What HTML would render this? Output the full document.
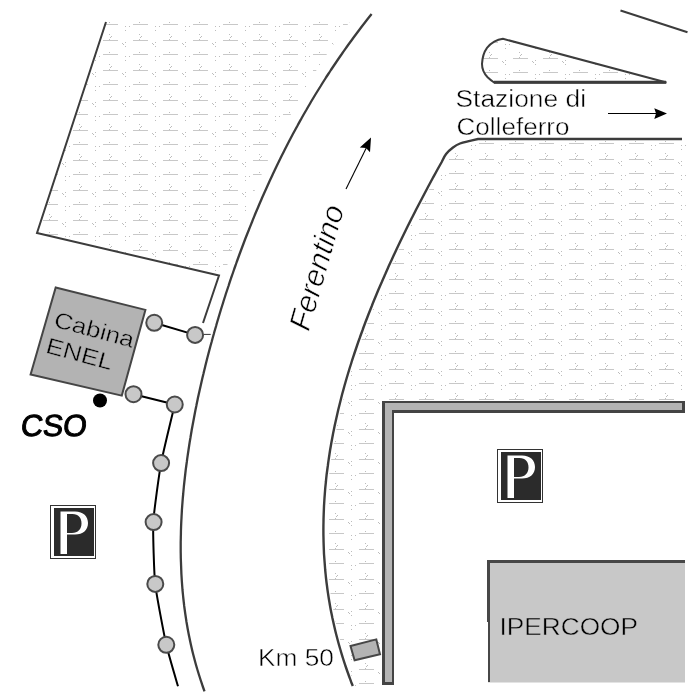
<!DOCTYPE html>
<html><head><meta charset="utf-8"><style>
html,body{margin:0;padding:0;background:#fff;}
svg{display:block;will-change:transform;}
text{font-family:"Liberation Sans",sans-serif;}
</style></head><body>
<svg width="700" height="700" viewBox="0 0 700 700">
<defs>
<pattern id="hL" patternUnits="userSpaceOnUse" x="0" y="0" width="30" height="30"><rect x="13" y="24" width="15" height="1" fill="#c8c8c8"/><rect x="13" y="10" width="15" height="1" fill="#c8c8c8"/><rect x="19" y="22" width="1" height="1" fill="#bdbdbd"/><rect x="5" y="26" width="1" height="1" fill="#bdbdbd"/><rect x="9" y="26" width="1" height="1" fill="#bdbdbd"/><rect x="5" y="0" width="1" height="1" fill="#bdbdbd"/><rect x="19" y="4" width="1" height="1" fill="#bdbdbd"/><rect x="21" y="6" width="1" height="1" fill="#bdbdbd"/><rect x="20" y="7" width="1" height="1" fill="#bdbdbd"/><rect x="19" y="9" width="1" height="1" fill="#bdbdbd"/><rect x="2" y="13" width="1" height="1" fill="#bdbdbd"/><rect x="3" y="14" width="1" height="1" fill="#bdbdbd"/><rect x="5" y="12" width="1" height="1" fill="#bdbdbd"/><rect x="5" y="16" width="1" height="1" fill="#bdbdbd"/></pattern><pattern id="hR" patternUnits="userSpaceOnUse" x="16" y="29" width="30" height="30"><rect x="13" y="24" width="15" height="1" fill="#c8c8c8"/><rect x="13" y="10" width="15" height="1" fill="#c8c8c8"/><rect x="19" y="22" width="1" height="1" fill="#bdbdbd"/><rect x="5" y="26" width="1" height="1" fill="#bdbdbd"/><rect x="9" y="26" width="1" height="1" fill="#bdbdbd"/><rect x="5" y="0" width="1" height="1" fill="#bdbdbd"/><rect x="19" y="4" width="1" height="1" fill="#bdbdbd"/><rect x="21" y="6" width="1" height="1" fill="#bdbdbd"/><rect x="20" y="7" width="1" height="1" fill="#bdbdbd"/><rect x="19" y="9" width="1" height="1" fill="#bdbdbd"/><rect x="2" y="13" width="1" height="1" fill="#bdbdbd"/><rect x="3" y="14" width="1" height="1" fill="#bdbdbd"/><rect x="5" y="12" width="1" height="1" fill="#bdbdbd"/><rect x="5" y="16" width="1" height="1" fill="#bdbdbd"/></pattern><pattern id="hI" patternUnits="userSpaceOnUse" x="20" y="18" width="30" height="30"><rect x="13" y="24" width="15" height="1" fill="#c8c8c8"/><rect x="13" y="10" width="15" height="1" fill="#c8c8c8"/><rect x="19" y="22" width="1" height="1" fill="#bdbdbd"/><rect x="5" y="26" width="1" height="1" fill="#bdbdbd"/><rect x="9" y="26" width="1" height="1" fill="#bdbdbd"/><rect x="5" y="0" width="1" height="1" fill="#bdbdbd"/><rect x="19" y="4" width="1" height="1" fill="#bdbdbd"/><rect x="21" y="6" width="1" height="1" fill="#bdbdbd"/><rect x="20" y="7" width="1" height="1" fill="#bdbdbd"/><rect x="19" y="9" width="1" height="1" fill="#bdbdbd"/><rect x="2" y="13" width="1" height="1" fill="#bdbdbd"/><rect x="3" y="14" width="1" height="1" fill="#bdbdbd"/><rect x="5" y="12" width="1" height="1" fill="#bdbdbd"/><rect x="5" y="16" width="1" height="1" fill="#bdbdbd"/></pattern>
</defs>
<rect width="700" height="700" fill="#fff"/>
<path d="M106,20 L351.1,20 L349.6,22.0 L343.7,30.0 L338.0,38.0 L332.4,46.0 L327.0,54.0 L321.7,62.0 L316.6,70.0 L311.7,78.0 L306.9,86.0 L302.2,94.0 L297.6,102.0 L293.2,110.0 L288.9,118.0 L284.7,126.0 L280.6,134.0 L276.7,142.0 L272.8,150.0 L269.0,158.0 L265.4,166.0 L261.8,174.0 L258.4,182.0 L255.0,190.0 L251.7,198.0 L248.5,206.0 L245.4,214.0 L242.3,222.0 L239.4,230.0 L236.5,238.0 L233.7,246.0 L231.0,254.0 L228.3,262.0 L225.7,270.0 L224.2,275.0 L219,275.5 L37,233 Z" fill="url(#hL)"/>
<path d="M478,141 L686.5,141 L684,400 L380.5,400 L380.5,686 L355.3,686.0 L353.7,682.0 L350.8,674.0 L348.0,666.0 L345.4,658.0 L343.0,650.0 L340.7,642.0 L338.6,634.0 L336.7,626.0 L334.9,618.0 L333.3,610.0 L331.9,602.0 L330.6,594.0 L329.5,586.0 L328.5,578.0 L327.7,570.0 L327.1,562.0 L326.5,554.0 L326.2,546.0 L326.0,538.0 L325.9,530.0 L326.0,522.0 L326.2,514.0 L326.5,506.0 L327.0,498.0 L327.6,490.0 L328.4,482.0 L329.2,474.0 L330.3,466.0 L331.4,458.0 L332.6,450.0 L334.0,442.0 L335.5,434.0 L337.1,426.0 L338.9,418.0 L340.7,410.0 L342.7,402.0 L344.7,394.0 L346.9,386.0 L349.2,378.0 L351.6,370.0 L354.1,362.0 L356.7,354.0 L359.4,346.0 L362.2,338.0 L365.1,330.0 L368.0,322.0 L371.1,314.0 L374.3,306.0 L377.5,298.0 L380.8,290.0 L384.3,282.0 L387.8,274.0 L391.3,266.0 L395.0,258.0 L398.7,250.0 L402.5,242.0 L406.4,234.0 L410.3,226.0 L414.3,218.0 L418.4,210.0 L422.6,202.0 L426.8,194.0 L431.0,186.0 L435.3,178.0 L439.7,170.0 L444.2,162.0 L448.6,154.0 L446.5,156 L453,149.5 L460,145.5 L470,142.8 Z" fill="url(#hR)"/>
<path d="M666.5,82.5 L503,38.8 C497,39.5 491,43 487,47.9 C484,52 482.3,58 482,64 C482,70 483.5,73 487.6,77.2 C490,79.5 492,81 494.1,82.5 Z" fill="url(#hI)"/>
<g fill="none" stroke="#3c3c3c" stroke-width="2" stroke-linejoin="miter">
<path d="M106,22 L37,233 L219,275.5 L203,323"/>
<path d="M371.6,14.0 C370.6,15.3 367.4,19.3 365.3,22.0 C363.2,24.7 361.2,27.3 359.2,30.0 C357.2,32.7 355.2,35.3 353.2,38.0 C351.3,40.7 349.3,43.3 347.4,46.0 C345.5,48.7 343.6,51.3 341.8,54.0 C339.9,56.7 338.1,59.3 336.3,62.0 C334.5,64.7 332.7,67.3 330.9,70.0 C329.2,72.7 327.4,75.3 325.7,78.0 C324.0,80.7 322.3,83.3 320.7,86.0 C319.0,88.7 317.4,91.3 315.7,94.0 C314.1,96.7 312.5,99.3 310.9,102.0 C309.4,104.7 307.8,107.3 306.3,110.0 C304.7,112.7 303.2,115.3 301.7,118.0 C300.2,120.7 298.7,123.3 297.3,126.0 C295.8,128.7 294.4,131.3 292.9,134.0 C291.5,136.7 290.1,139.3 288.7,142.0 C287.3,144.7 286.0,147.3 284.6,150.0 C283.3,152.7 281.9,155.3 280.6,158.0 C279.3,160.7 278.0,163.3 276.7,166.0 C275.4,168.7 274.2,171.3 272.9,174.0 C271.7,176.7 270.4,179.3 269.2,182.0 C268.0,184.7 266.8,187.3 265.6,190.0 C264.4,192.7 263.2,195.3 262.0,198.0 C260.9,200.7 259.7,203.3 258.6,206.0 C257.5,208.7 256.3,211.3 255.2,214.0 C254.1,216.7 253.0,219.3 252.0,222.0 C250.9,224.7 249.8,227.3 248.8,230.0 C247.7,232.7 246.7,235.3 245.6,238.0 C244.6,240.7 243.6,243.3 242.6,246.0 C241.6,248.7 240.6,251.3 239.6,254.0 C238.6,256.7 237.7,259.3 236.7,262.0 C235.8,264.7 234.8,267.3 233.9,270.0 C233.0,272.7 232.1,275.3 231.1,278.0 C230.2,280.7 229.3,283.3 228.5,286.0 C227.6,288.7 226.7,291.3 225.8,294.0 C225.0,296.7 224.1,299.3 223.3,302.0 C222.5,304.7 221.6,307.3 220.8,310.0 C220.0,312.7 219.2,315.3 218.4,318.0 C217.6,320.7 216.8,323.3 216.1,326.0 C215.3,328.7 214.5,331.3 213.8,334.0 C213.0,336.7 212.3,339.3 211.6,342.0 C210.8,344.7 210.1,347.3 209.4,350.0 C208.7,352.7 208.0,355.3 207.3,358.0 C206.6,360.7 206.0,363.3 205.3,366.0 C204.7,368.7 204.0,371.3 203.4,374.0 C202.7,376.7 202.1,379.3 201.5,382.0 C200.9,384.7 200.3,387.3 199.7,390.0 C199.1,392.7 198.5,395.3 197.9,398.0 C197.4,400.7 196.8,403.3 196.3,406.0 C195.7,408.7 195.2,411.3 194.7,414.0 C194.2,416.7 193.7,419.3 193.2,422.0 C192.7,424.7 192.2,427.3 191.7,430.0 C191.3,432.7 190.8,435.3 190.4,438.0 C189.9,440.7 189.5,443.3 189.1,446.0 C188.7,448.7 188.3,451.3 187.9,454.0 C187.5,456.7 187.1,459.3 186.8,462.0 C186.4,464.7 186.1,467.3 185.7,470.0 C185.4,472.7 185.1,475.3 184.8,478.0 C184.5,480.7 184.2,483.3 183.9,486.0 C183.7,488.7 183.4,491.3 183.2,494.0 C182.9,496.7 182.7,499.3 182.5,502.0 C182.3,504.7 182.1,507.3 181.9,510.0 C181.8,512.7 181.6,515.3 181.5,518.0 C181.3,520.7 181.2,523.3 181.1,526.0 C181.0,528.7 180.9,531.3 180.9,534.0 C180.8,536.7 180.8,539.3 180.7,542.0 C180.7,544.7 180.7,547.3 180.7,550.0 C180.7,552.7 180.8,555.3 180.8,558.0 C180.9,560.7 181.0,563.3 181.1,566.0 C181.2,568.7 181.3,571.3 181.4,574.0 C181.6,576.7 181.7,579.3 181.9,582.0 C182.1,584.7 182.3,587.3 182.5,590.0 C182.8,592.7 183.0,595.3 183.3,598.0 C183.6,600.7 183.9,603.3 184.2,606.0 C184.6,608.7 184.9,611.3 185.3,614.0 C185.7,616.7 186.1,619.3 186.5,622.0 C187.0,624.7 187.4,627.3 187.9,630.0 C188.4,632.7 188.9,635.3 189.5,638.0 C190.0,640.7 190.6,643.3 191.2,646.0 C191.8,648.7 192.4,651.3 193.1,654.0 C193.8,656.7 194.5,659.3 195.2,662.0 C195.9,664.7 196.7,667.3 197.5,670.0 C198.3,672.7 199.1,675.3 200.0,678.0 C200.8,680.7 201.9,683.8 202.6,686.0 C203.4,688.2 204.2,690.4 204.5,691.3" stroke-width="2.3"/>
<path d="M352.8,686.0 C352.5,685.3 352.0,684.0 351.2,682.0 C350.5,680.0 349.2,676.7 348.3,674.0 C347.3,671.3 346.4,668.7 345.5,666.0 C344.6,663.3 343.7,660.7 342.9,658.0 C342.1,655.3 341.2,652.7 340.5,650.0 C339.7,647.3 338.9,644.7 338.2,642.0 C337.5,639.3 336.8,636.7 336.1,634.0 C335.4,631.3 334.8,628.7 334.2,626.0 C333.6,623.3 333.0,620.7 332.4,618.0 C331.9,615.3 331.3,612.7 330.8,610.0 C330.3,607.3 329.8,604.7 329.4,602.0 C328.9,599.3 328.5,596.7 328.1,594.0 C327.7,591.3 327.3,588.7 327.0,586.0 C326.6,583.3 326.3,580.7 326.0,578.0 C325.7,575.3 325.5,572.7 325.2,570.0 C325.0,567.3 324.8,564.7 324.6,562.0 C324.4,559.3 324.2,556.7 324.0,554.0 C323.9,551.3 323.8,548.7 323.7,546.0 C323.6,543.3 323.5,540.7 323.5,538.0 C323.4,535.3 323.4,532.7 323.4,530.0 C323.4,527.3 323.4,524.7 323.5,522.0 C323.5,519.3 323.6,516.7 323.7,514.0 C323.8,511.3 323.9,508.7 324.0,506.0 C324.2,503.3 324.3,500.7 324.5,498.0 C324.7,495.3 324.9,492.7 325.1,490.0 C325.3,487.3 325.6,484.7 325.9,482.0 C326.1,479.3 326.4,476.7 326.7,474.0 C327.1,471.3 327.4,468.7 327.8,466.0 C328.1,463.3 328.5,460.7 328.9,458.0 C329.3,455.3 329.7,452.7 330.1,450.0 C330.6,447.3 331.0,444.7 331.5,442.0 C332.0,439.3 332.5,436.7 333.0,434.0 C333.5,431.3 334.1,428.7 334.6,426.0 C335.2,423.3 335.8,420.7 336.4,418.0 C337.0,415.3 337.6,412.7 338.2,410.0 C338.9,407.3 339.5,404.7 340.2,402.0 C340.9,399.3 341.5,396.7 342.2,394.0 C343.0,391.3 343.7,388.7 344.4,386.0 C345.2,383.3 345.9,380.7 346.7,378.0 C347.5,375.3 348.3,372.7 349.1,370.0 C349.9,367.3 350.8,364.7 351.6,362.0 C352.4,359.3 353.3,356.7 354.2,354.0 C355.1,351.3 356.0,348.7 356.9,346.0 C357.8,343.3 358.7,340.7 359.7,338.0 C360.6,335.3 361.6,332.7 362.6,330.0 C363.5,327.3 364.5,324.7 365.5,322.0 C366.6,319.3 367.6,316.7 368.6,314.0 C369.7,311.3 370.7,308.7 371.8,306.0 C372.8,303.3 373.9,300.7 375.0,298.0 C376.1,295.3 377.2,292.7 378.3,290.0 C379.5,287.3 380.6,284.7 381.8,282.0 C382.9,279.3 384.1,276.7 385.3,274.0 C386.4,271.3 387.6,268.7 388.8,266.0 C390.0,263.3 391.3,260.7 392.5,258.0 C393.7,255.3 395.0,252.7 396.2,250.0 C397.5,247.3 398.7,244.7 400.0,242.0 C401.3,239.3 402.6,236.7 403.9,234.0 C405.2,231.3 406.5,228.7 407.8,226.0 C409.2,223.3 410.5,220.7 411.8,218.0 C413.2,215.3 414.6,212.7 415.9,210.0 C417.3,207.3 418.7,204.7 420.1,202.0 C421.5,199.3 422.9,196.7 424.3,194.0 C425.7,191.3 427.1,188.7 428.5,186.0 C430.0,183.3 431.4,180.7 432.8,178.0 C434.3,175.3 435.8,172.7 437.2,170.0 C438.7,167.3 440.2,164.7 441.7,162.0 C443.1,159.3 444.2,156.4 446.1,154.0 C448.0,151.6 450.7,149.2 453.0,147.5 C455.3,145.8 457.2,144.6 460.0,143.5 C462.8,142.4 467.0,141.6 470.0,140.8 C473.0,140.1 476.7,139.3 478.0,139.0 L682,139" stroke-width="2.4"/>
<path d="M666.5,82.5 L503,38.8 C497,39.5 491,43 487,47.9 C484,52 482.3,58 482,64 C482,70 483.5,73 487.6,77.2 C490,79.5 492,81 494.1,82.5 Z"/>
<path d="M620.5,10.5 L687.5,32.2"/>
<path d="M494,82.3 L666,82.3" stroke-width="3"/>
</g>
<!-- L bar -->
<path d="M382,401 L685,401 L685,413 L394,413 L394,685 L382,685 Z" fill="#444"/>
<path d="M385,403 L682,403 L682,410 L392,410 L392,682 L385,682 Z" fill="#b4b4b4"/>
<!-- IPERCOOP -->
<rect x="488" y="561" width="197" height="121.5" fill="#c8c8c8"/>
<rect x="487" y="560" width="198" height="3" fill="#474747"/><rect x="487" y="560" width="3" height="62" fill="#474747"/><rect x="488" y="622" width="2" height="60" fill="#474747"/>
<text x="499.5" y="635.3" font-size="24" fill="#000" stroke="#c8c8c8" stroke-width="0.45" textLength="138.5" lengthAdjust="spacingAndGlyphs">IPERCOOP</text>
<!-- Cabina ENEL -->
<path d="M55.7,287.5 L145.4,309.9 L121.8,395.6 L30.6,374.4 Z" fill="#b3b3b3" stroke="#454545" stroke-width="2"/>
<g transform="translate(88,340) rotate(15)">
<text x="-37.5" y="-4" font-size="22.5" fill="#000" stroke="#b3b3b3" stroke-width="0.45" textLength="82" lengthAdjust="spacingAndGlyphs">Cabina</text>
<text x="-38.5" y="23.3" font-size="22.5" fill="#000" stroke="#b3b3b3" stroke-width="0.45" textLength="68" lengthAdjust="spacingAndGlyphs">ENEL</text>
</g>
<circle cx="100" cy="400.5" r="7" fill="#000"/>
<!-- connectors -->
<g stroke="#000" stroke-width="2" fill="none">
<path d="M154.25,322.8 L195.1,334.9"/>
<path d="M133.5,394.2 L174.75,404.5"/>
<path d="M174.8,404.5 C173.6,409.4 162.9,453.3 161.1,463.1 C159.3,472.9 153.8,512.2 153.3,522.3 C152.8,532.4 154.1,573.9 155.2,584.1 C156.3,594.3 164.4,636.3 166.3,644.8 C168.2,653.3 177.0,682.8 178.0,686.3"/>
</g>
<path d="M203.9,334.4 L210.7,334.4" stroke="#333" stroke-width="1"/>
<g fill="#c8c8c8" stroke="#4a4a4a" stroke-width="2">
<circle cx="154.25" cy="322.8" r="8"/>
<circle cx="195.1" cy="334.9" r="8"/>
<circle cx="133.5" cy="394.2" r="8"/>
<circle cx="174.75" cy="404.5" r="8"/>
<circle cx="161.1" cy="463.1" r="8"/>
<circle cx="153.6" cy="522.1" r="8"/>
<circle cx="155.3" cy="583.9" r="8"/>
<circle cx="166.3" cy="644.8" r="8"/>
</g>
<g transform="translate(20,436) skewX(-6)"><text x="0" y="0" font-size="30.5" font-weight="normal" fill="#000" stroke="#000" stroke-width="1" textLength="66" lengthAdjust="spacingAndGlyphs">CSO</text></g>
<g transform="translate(0,0)"><rect x="50.5" y="505.5" width="45" height="53" fill="#fff" stroke="#333" stroke-width="1"/><rect x="54" y="508" width="40" height="48" fill="#2b2b2b"/><path d="M60.5,511.5 L75,511.5 C83.5,511.5 88,516.5 88,523 C88,530 83,534.5 75,534.5 L67,534.5 L67,554 L60.5,554 Z M67,514 L72.5,514 C78.5,514 81.5,518 81.5,523.5 C81.5,529 78,533 72,533 L67,533 Z" fill="#fff" fill-rule="evenodd"/></g>
<g transform="translate(447,-56)"><rect x="50.5" y="505.5" width="45" height="53" fill="#fff" stroke="#333" stroke-width="1"/><rect x="54" y="508" width="40" height="48" fill="#2b2b2b"/><path d="M60.5,511.5 L75,511.5 C83.5,511.5 88,516.5 88,523 C88,530 83,534.5 75,534.5 L67,534.5 L67,554 L60.5,554 Z M67,514 L72.5,514 C78.5,514 81.5,518 81.5,523.5 C81.5,529 78,533 72,533 L67,533 Z" fill="#fff" fill-rule="evenodd"/></g>
<!-- Km 50 -->
<path d="M350.5,646 L376.3,639.4 L380,654.3 L354.6,660.2 Z" fill="#b4b4b4" stroke="#474747" stroke-width="2"/>
<text x="258" y="665.6" font-size="23.5" fill="#000" stroke="#fff" stroke-width="0.45" textLength="76" lengthAdjust="spacingAndGlyphs">Km 50</text>
<!-- Stazione -->
<text x="455.5" y="106.5" font-size="23.5" fill="#000" stroke="#fff" stroke-width="0.45" textLength="130.5" lengthAdjust="spacingAndGlyphs">Stazione di</text>
<text x="456.5" y="134.6" font-size="23.5" fill="#000" stroke="#fff" stroke-width="0.45" textLength="113" lengthAdjust="spacingAndGlyphs">Colleferro</text>
<path d="M608,113.5 L657,113.5" stroke="#000" stroke-width="1.2"/>
<path d="M667,113.5 L654.3,108.2 L656,113.5 L654.3,118.9 Z" fill="#000"/>
<!-- Ferentino -->
<g transform="translate(317,267.5) rotate(-74)">
<text x="0" y="10" font-size="30.5" font-style="italic" fill="#000" stroke="#fff" stroke-width="0.6" text-anchor="middle">Ferentino</text>
</g>
<path d="M346,189 L367,146.5" stroke="#000" stroke-width="1.1"/>
<path d="M371,137.5 L359.8,147.5 L366,148 L370,152.2 Z" fill="#000"/>
</svg>
</body></html>
